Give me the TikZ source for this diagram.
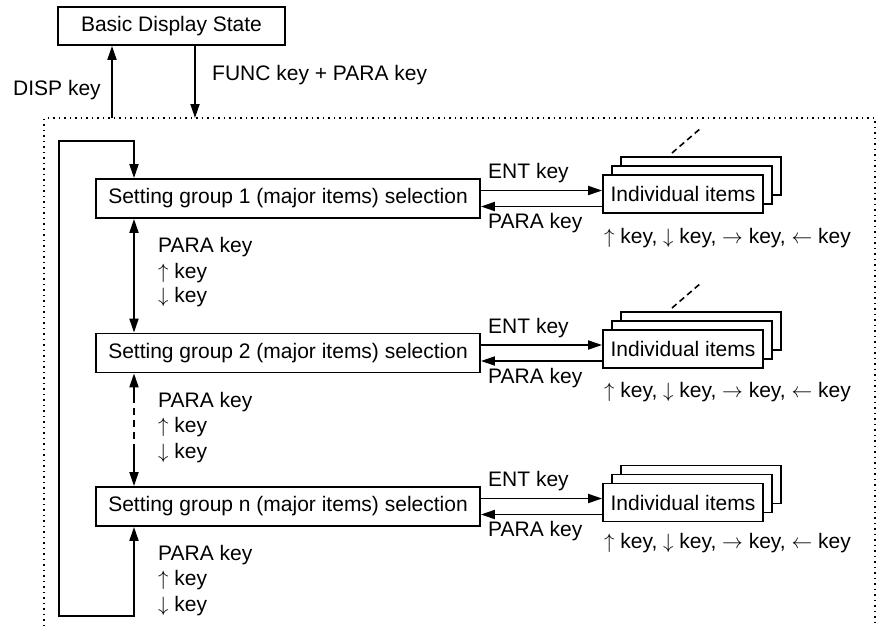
\documentclass[tikz,border=0pt]{standalone}
\usepackage{fontspec}
\setmainfont{Liberation Sans}
\usetikzlibrary{arrows.meta}
\newcommand{\ua}{\ensuremath{\uparrow}}
\newcommand{\da}{\ensuremath{\downarrow}}
\newcommand{\ra}{\ensuremath{\rightarrow}}
\newcommand{\la}{\ensuremath{\leftarrow}}
\begin{document}
\begin{tikzpicture}[x=1pt,y=-1pt,
  every node/.style={font=\fontsize{21}{25}\selectfont},
  box/.style={draw,line width=1.8pt,fill=white,inner sep=0pt,minimum height=38pt},
  grp/.style={box,minimum width=384pt,minimum height=39pt},
  ibox/.style={box,minimum width=160pt},
  lbl/.style={anchor=west,inner sep=0pt},
  conn/.style={line width=1.8pt,-{Triangle[length=14pt,width=9pt]}},
  conn2/.style={line width=1.8pt,{Triangle[length=14pt,width=9pt]}-{Triangle[length=14pt,width=9pt]}},
  dotbox/.style={line width=1.4pt,dash pattern=on 1.5pt off 4pt},
  diag/.style={line width=1.6pt,dash pattern=on 6pt off 4pt}]
\useasboundingbox (0,0) rectangle (877,626);
% dotted frame
\draw[dotbox] (44,626) -- (44,118) -- (875,118) -- (875,626);
% top state
\node[box,minimum width=227pt] (basic) at (171.5,26) {Basic Display State};
\coordinate (dispfoot) at (112,118);
\coordinate (funcfoot) at (195,118);
\draw[conn] (dispfoot) -- (basic.south -| dispfoot);
\draw[conn] (basic.south -| funcfoot) -- (funcfoot);
\node[lbl] (displbl) at (13,90) {DISP key};
\node[lbl] (funclbl) at (212,75) {FUNC key + PARA key};
% groups
\node[grp] (g1) at (288,198.5) {Setting group 1 (major items) selection};
\node[grp] (g2) at (288,353) {Setting group 2 (major items) selection};
\node[grp] (gn) at (288,506.5) {Setting group n (major items) selection};
\coordinate (col) at (134,0);
% loop
\coordinate (lb) at (134,616);
\coordinate (lt) at (134,141);
\draw[conn2] (gn.south -| col) -- (lb) -- (59,616) -- (59,141) -- (lt) -- (g1.north -| col);
% vertical arrows
\draw[conn2] (g1.south -| col) -- (g2.north -| col);
\coordinate (m1) at (134,396);
\coordinate (m2) at (134,448);
\draw[line width=1.8pt,{Triangle[length=14pt,width=9pt]}-] (g2.south -| col) -- (m1);
\draw[line width=1.8pt,dash pattern=on 7pt off 5pt] (m1) -- (m2);
\draw[conn] (m2) -- (gn.north -| col);
% vertical labels
\node[lbl] (p1a) at (158,247) {PARA key};
\node[lbl] (p1b) at (158,273) {\ua\ key};
\node[lbl] (p1c) at (158,297) {\da\ key};
\node[lbl] (p2a) at (158,402) {PARA key};
\node[lbl] (p2b) at (158,427) {\ua\ key};
\node[lbl] (p2c) at (158,453) {\da\ key};
\node[lbl] (p3a) at (158,555) {PARA key};
\node[lbl] (p3b) at (158,580) {\ua\ key};
\node[lbl] (p3c) at (158,606) {\da\ key};
% stacks
\node[ibox] (s1c) at (701,176) {};
\node[ibox] (s1b) at (692,185) {};
\node[ibox] (s1) at (683,194) {Individual items};
\node[ibox] (s2c) at (701,331) {};
\node[ibox] (s2b) at (692,340) {};
\node[ibox] (s2) at (683,349) {Individual items};
\node[ibox] (s3c) at (701,484.5) {};
\node[ibox] (s3b) at (692,493.5) {};
\node[ibox] (s3) at (683,502.5) {Individual items};
% diagonal dashes
\coordinate (d1a) at (672,153);
\coordinate (d1b) at (701,128);
\coordinate (d2a) at (672,308);
\coordinate (d2b) at (701,283);
\draw[diag] (d1a) -- (d1b);
\draw[diag] (d2a) -- (d2b);
% horizontal arrows
\coordinate (e1) at ([yshift=8pt]g1.east);
\coordinate (r1) at ([yshift=-8pt]g1.east);
\coordinate (e2) at ([yshift=8pt]g2.east);
\coordinate (r2) at ([yshift=-8pt]g2.east);
\coordinate (e3) at ([yshift=8pt]gn.east);
\coordinate (r3) at ([yshift=-8pt]gn.east);
\draw[conn] (e1) -- (e1 -| s1.west);
\draw[conn] (r1 -| s1.west) -- (r1);
\draw[conn] (e2) -- (e2 -| s2.west);
\draw[conn] (r2 -| s2.west) -- (r2);
\draw[conn] (e3) -- (e3 -| s3.west);
\draw[conn] (r3 -| s3.west) -- (r3);
\node[lbl] (ent1) at (488,173) {ENT key};
\node[lbl] (par1) at (488,223) {PARA key};
\node[lbl] (ent2) at (488,328) {ENT key};
\node[lbl] (par2) at (488,378) {PARA key};
\node[lbl] (ent3) at (488,481) {ENT key};
\node[lbl] (par3) at (488,531) {PARA key};
\node[lbl] (k1) at (604,238) {\ua\ key, \da\ key, \ra\ key, \la\ key};
\node[lbl] (k2) at (604,392) {\ua\ key, \da\ key, \ra\ key, \la\ key};
\node[lbl] (k3) at (604,543) {\ua\ key, \da\ key, \ra\ key, \la\ key};
\end{tikzpicture}
\end{document}
